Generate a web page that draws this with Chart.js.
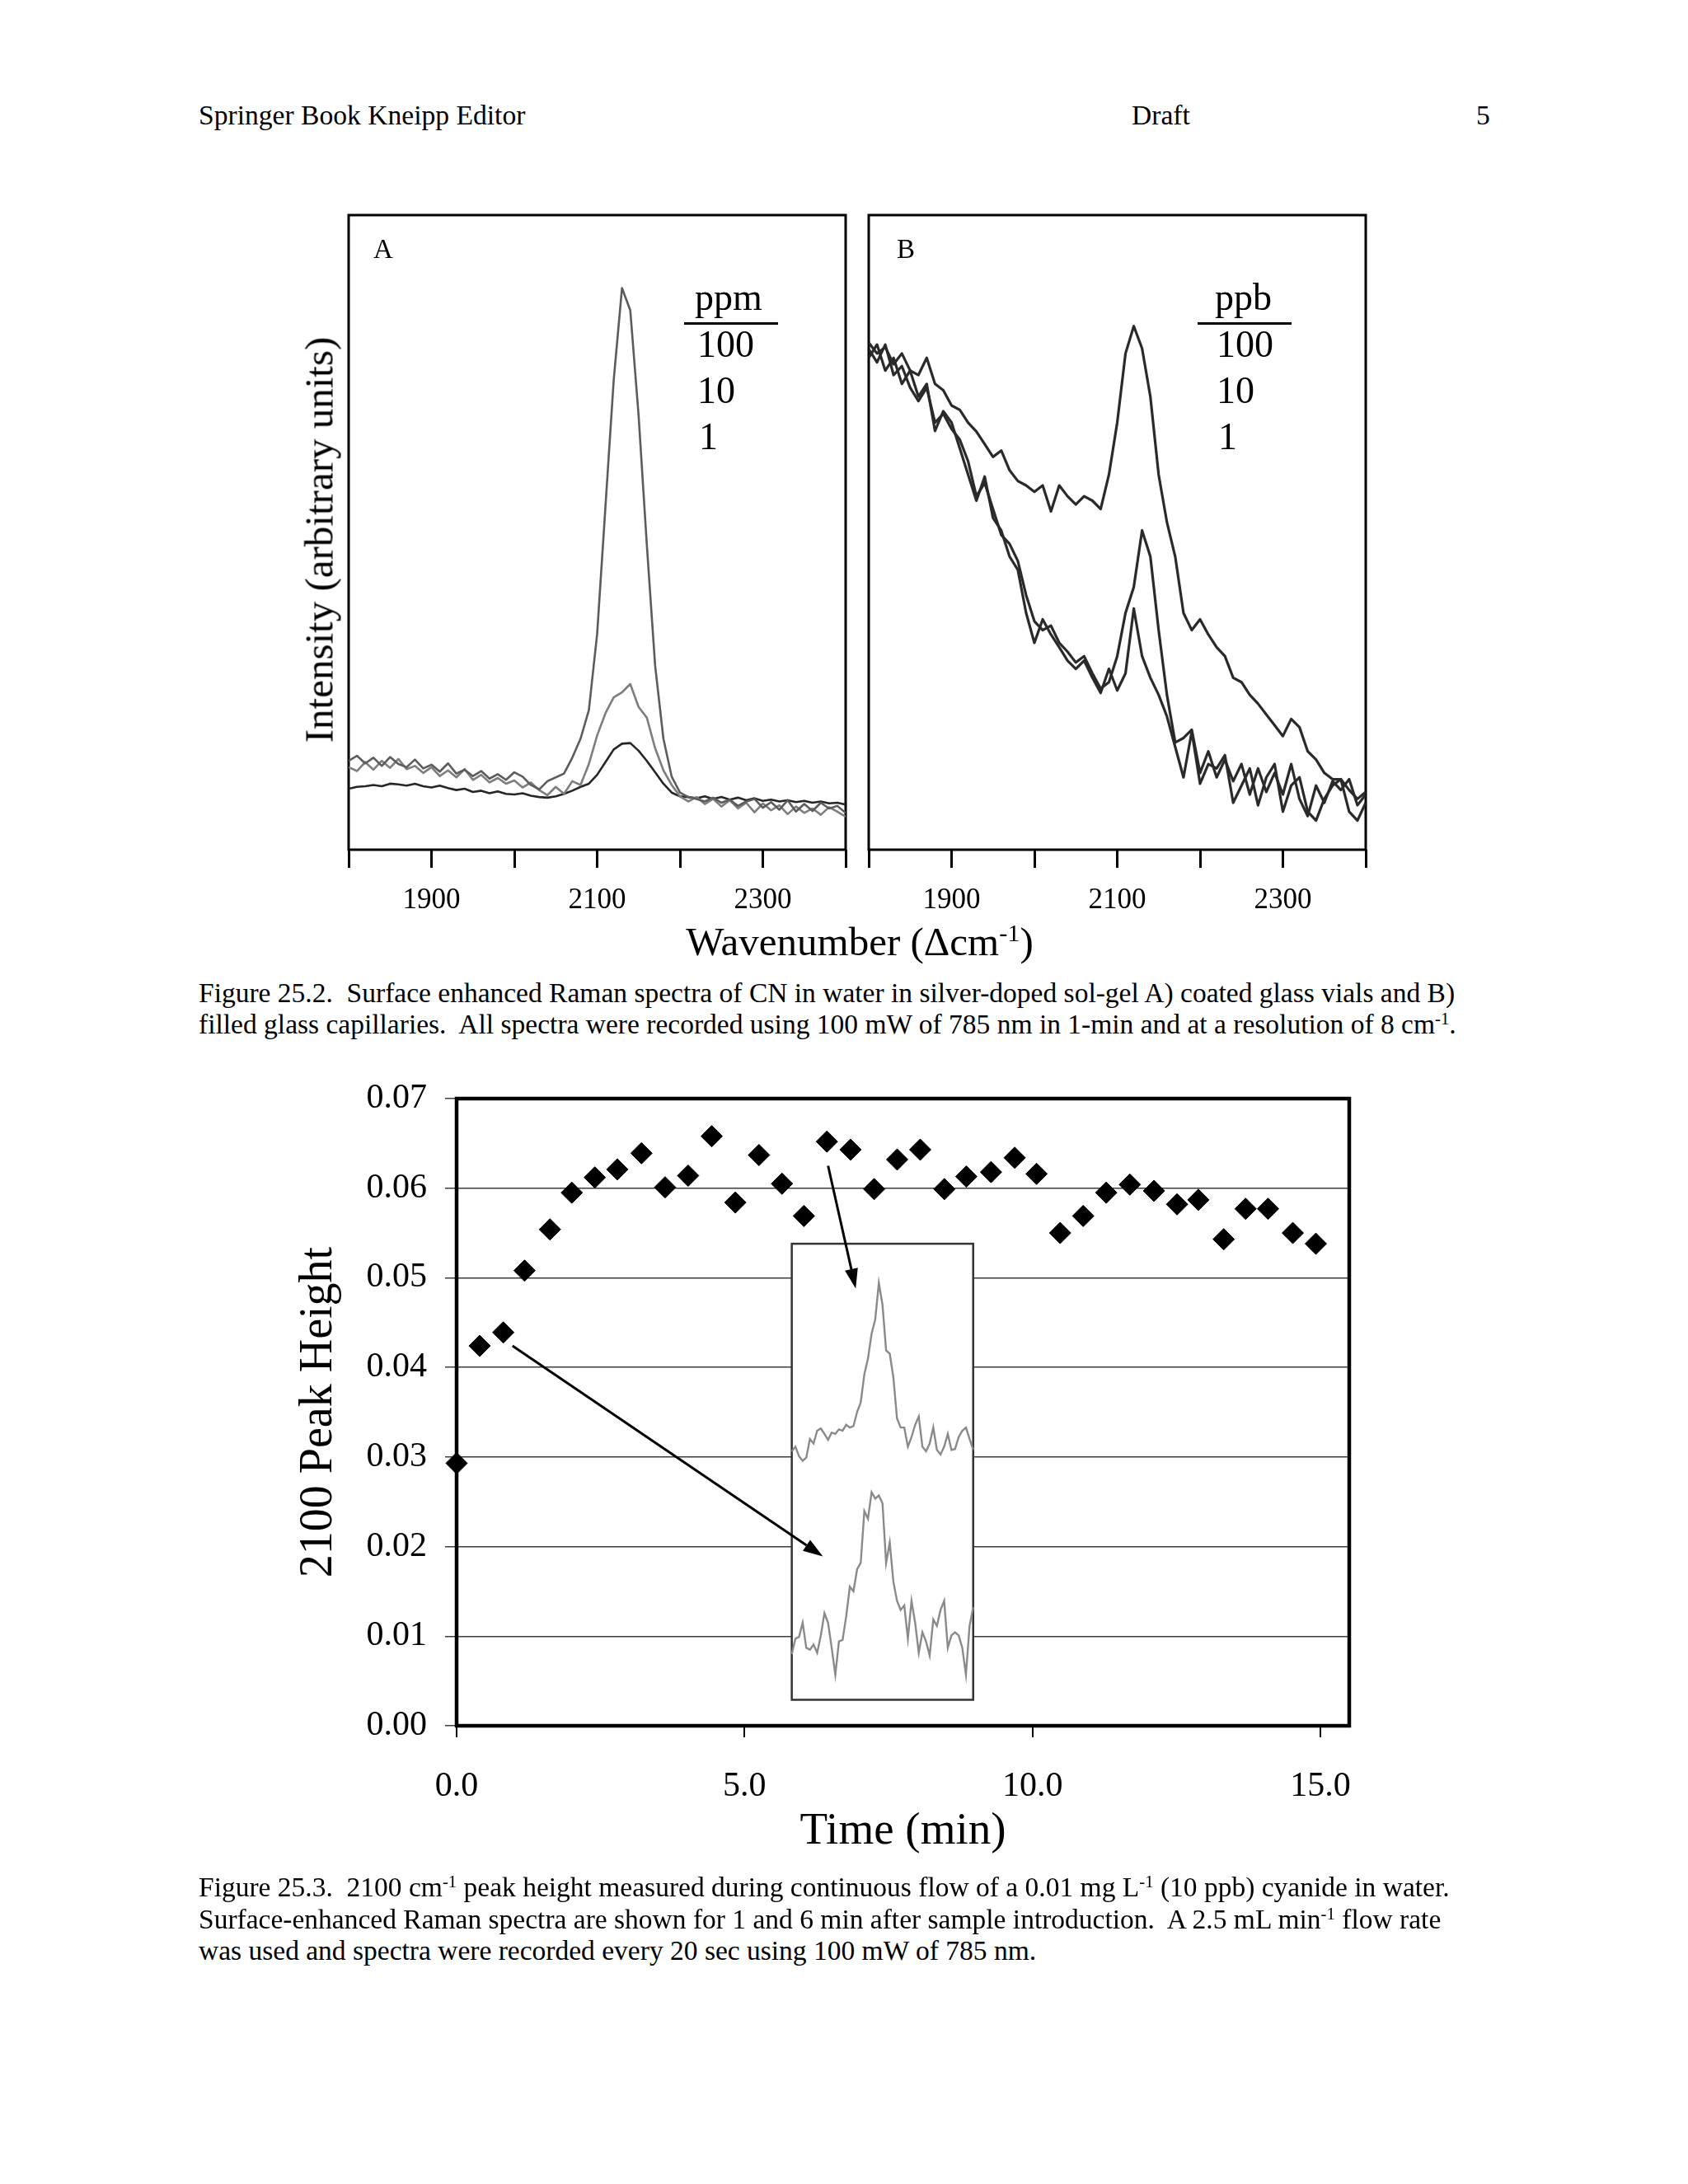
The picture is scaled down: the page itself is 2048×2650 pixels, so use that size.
<!DOCTYPE html>
<html>
<head>
<meta charset="utf-8">
<script src="https://cdn.jsdelivr.net/npm/chart.js@4.4.1/dist/chart.umd.min.js"></script>
<style>
  html, body { margin: 0; padding: 0; background: #fff; }
  body { width: 2048px; height: 2650px; position: relative; overflow: hidden;
         font-family: 'Liberation Serif', 'Times New Roman', serif; color: #000; }
  .t { position: absolute; white-space: nowrap; line-height: 1; }
  .c { transform: translate(-50%, -50%); }
  .r { transform: translate(-50%, -50%) rotate(-90deg); }
  canvas { position: absolute; }
  sup { font-size: 62%; line-height: 0; vertical-align: 0.55em; }
  .rule { position: absolute; height: 3px; background: #000; }
</style>
</head>
<body>
<!-- kop van de pagina -->
<div class="t" style="left:241px;top:123px;font-size:33.6px">Springer Book Kneipp Editor</div>
<div class="t" style="left:1373px;top:123px;font-size:33.6px">Draft</div>
<div class="t" style="left:1791px;top:123px;font-size:33.6px">5</div>

<!-- Figure 25.2 -->
<canvas id="panelA" width="640" height="880" style="left:400px;top:240px"></canvas>
<canvas id="panelB" width="640" height="880" style="left:1040px;top:240px"></canvas>

<div class="t" style="left:453px;top:286px;font-size:33px">A</div>
<div class="t" style="left:1088px;top:286px;font-size:33px">B</div>

<div class="t" style="left:843px;top:338px;font-size:46px">ppm</div>
<div class="rule" style="left:830px;top:391px;width:114px"></div>
<div class="t" style="left:846px;top:395px;font-size:46px">100</div>
<div class="t" style="left:846px;top:451px;font-size:46px">10</div>
<div class="t" style="left:848px;top:507px;font-size:46px">1</div>

<div class="t" style="left:1474px;top:338px;font-size:46px">ppb</div>
<div class="rule" style="left:1453px;top:391px;width:114px"></div>
<div class="t" style="left:1476px;top:395px;font-size:46px">100</div>
<div class="t" style="left:1476px;top:451px;font-size:46px">10</div>
<div class="t" style="left:1478px;top:507px;font-size:46px">1</div>

<div class="t r" style="left:387px;top:655px;font-size:49px">Intensity (arbitrary units)</div>
<div class="t c" style="left:1043px;top:1142px;font-size:49px">Wavenumber (&Delta;cm<sup>-1</sup>)</div>

<div class="t" style="left:241px;top:1188px;font-size:33.5px">Figure 25.2.&nbsp; Surface enhanced Raman spectra of CN in water in silver-doped sol-gel A) coated glass vials and B)</div>
<div class="t" style="left:241px;top:1226px;font-size:33.5px">filled glass capillaries.&nbsp; All spectra were recorded using 100 mW of 785 nm in 1-min and at a resolution of 8 cm<sup>-1</sup>.</div>

<!-- Figure 25.3 -->
<canvas id="peakChart" width="1340" height="1000" style="left:330px;top:1290px"></canvas>
<canvas id="insetChart" width="1340" height="1000" style="left:330px;top:1290px"></canvas>

<div class="t" style="left:241px;top:2273px;font-size:33.5px">Figure 25.3.&nbsp; 2100 cm<sup>-1</sup> peak height measured during continuous flow of a 0.01 mg L<sup>-1</sup> (10 ppb) cyanide in water.</div>
<div class="t" style="left:241px;top:2312px;font-size:33.5px">Surface-enhanced Raman spectra are shown for 1 and 6 min after sample introduction.&nbsp; A 2.5 mL min<sup>-1</sup> flow rate</div>
<div class="t" style="left:241px;top:2350px;font-size:33.5px">was used and spectra were recorded every 20 sec using 100 mW of 785 nm.</div>

<script>
// Figure 25.2: spectra (intensity in willekeurige eenheden, 0-100 over het kader)
const wavenumber = [1800,1810,1820,1830,1840,1850,1860,1870,1880,1890,
  1900,1910,1920,1930,1940,1950,1960,1970,1980,1990,
  2000,2010,2020,2030,2040,2050,2060,2070,2080,2090,
  2100,2110,2120,2130,2140,2150,2160,2170,2180,2190,
  2200,2210,2220,2230,2240,2250,2260,2270,2280,2290,
  2300,2310,2320,2330,2340,2350,2360,2370,2380,2390,
  2400];
const wavenumberTickLabels = [1900, 2100, 2300];

// A) ppm
const spectrumA100 = [14.0,14.8,13.6,14.5,13.2,14.6,13.5,13.0,14.2,12.8,
  13.4,12.3,13.6,12.0,12.6,11.6,12.4,11.2,11.9,11.0,
  12.2,11.5,10.2,9.5,10.8,11.4,12.0,14.5,17.5,22.0,
  34.0,54.0,74.0,88.5,85.0,68.5,48.0,29.0,17.5,11.5,
  9.0,8.3,8.0,7.6,8.2,7.4,7.9,6.9,7.6,8.0,
  6.6,7.5,6.3,7.8,6.0,7.2,6.1,7.4,6.5,6.9,
  5.8];
const spectrumA10 = [13.0,12.4,13.8,12.6,14.0,12.9,14.3,12.7,13.2,12.1,
  13.0,11.6,12.5,11.4,12.7,11.0,11.8,10.6,11.3,10.4,
  10.9,9.8,10.6,9.4,8.6,9.9,8.8,10.8,10.2,13.5,
  18.0,21.5,24.0,24.8,26.1,22.5,20.8,16.0,12.5,10.2,
  8.4,7.6,8.3,7.2,8.0,6.8,7.8,6.5,7.4,5.9,
  7.3,6.2,7.0,5.6,6.8,5.8,6.5,5.5,6.7,6.0,
  5.2];
const spectrumA1 = [9.6,9.9,10.0,10.2,10.0,10.4,10.3,10.1,10.4,10.0,
  9.8,10.1,9.7,9.4,9.6,9.1,9.3,8.9,9.2,8.8,
  8.7,8.9,8.5,8.3,8.2,8.4,8.8,9.3,9.9,10.4,
  11.8,13.8,15.8,16.7,16.8,15.6,14.0,12.2,10.4,9.0,
  8.4,8.3,8.1,8.4,8.0,8.3,7.9,8.2,7.8,8.1,
  7.7,7.9,7.6,7.8,7.5,7.7,7.4,7.6,7.3,7.4,
  7.1];

// B) ppb
const spectrumB100 = [79.9,78.2,79.2,76.5,78.2,75.5,74.8,77.5,73.4,72.4,
  70.0,69.3,67.3,65.9,63.9,61.9,62.9,59.8,58.1,57.4,
  56.4,57.4,53.3,57.4,55.7,54.4,55.7,55.0,53.7,59.1,
  67.3,78.2,82.5,79.0,71.4,59.1,51.6,46.2,37.3,34.6,
  36.3,33.9,31.9,30.5,27.1,26.4,24.4,23.0,21.3,19.6,
  17.9,20.6,19.3,15.5,14.2,12.1,11.1,11.1,9.4,8.0,
  9.1];
const spectrumB10 = [78.9,76.8,79.6,74.8,76.2,72.8,70.7,72.8,67.3,68.7,
  66.3,64.6,61.2,55.7,57.8,53.7,49.6,48.2,45.5,40.1,
  36.0,34.6,35.3,32.6,31.2,29.5,30.5,27.8,25.4,26.4,
  30.5,37.3,41.4,50.3,46.2,34.6,24.4,16.9,17.6,18.9,
  12.1,15.5,11.4,14.2,10.8,13.5,8.7,12.8,9.1,12.1,
  8.7,13.5,8.0,5.3,10.1,7.4,10.8,9.4,11.1,7.0,
  8.7];
const spectrumB1 = [77.5,79.6,75.5,77.5,73.4,75.5,71.4,73.4,66.0,69.1,
  67.3,63.2,59.1,55.0,58.8,52.3,50.3,46.2,44.1,37.3,
  32.6,36.3,33.9,31.9,29.8,28.5,29.8,27.1,24.7,28.5,
  25.1,27.8,38.0,30.5,27.1,24.4,21.0,16.2,11.4,18.6,
  10.4,13.5,12.8,14.9,7.4,10.1,12.8,7.0,11.4,13.5,
  6.0,10.1,11.4,6.0,4.6,8.0,10.1,11.1,6.0,4.6,
  7.4];

// Figure 25.3: piekhoogte tegen tijd
const timeMin = [0.00,0.40,0.81,1.18,1.62,2.00,2.40,2.79,3.21,3.62,
  4.02,4.43,4.84,5.25,5.65,6.03,6.43,6.84,7.25,7.65,
  8.05,8.47,8.85,9.28,9.69,10.07,10.48,10.88,11.28,11.69,
  12.11,12.51,12.88,13.32,13.70,14.09,14.52,14.92];
const peakHeight = [0.0293,0.0424,0.0439,0.0508,0.0554,0.0595,0.0612,0.0621,0.0639,0.0601,
  0.0614,0.0658,0.0584,0.0637,0.0605,0.0569,0.0652,0.0643,0.0599,0.0632,
  0.0643,0.0599,0.0613,0.0618,0.0634,0.0616,0.0550,0.0569,0.0595,0.0604,
  0.0597,0.0582,0.0587,0.0543,0.0577,0.0577,0.0550,0.0538];
const timeTickLabels = [0, 5, 10, 15];
const peakHeightTicks = [0, 0.01, 0.02, 0.03, 0.04, 0.05, 0.06, 0.07];

// inzet met de twee spectra (na 6 en na 1 min)
const insetPoint = [0,1,2,3,4,5,6,7,8,9,10,11,12,13,14,15,16,17,18,19,20,
  21,22,23,24,25,26,27,28,29,30,31,32,33,34,35,36,37,38,39,40,
  41,42,43,44,45,46,47,48,49,50];
const insetSpectrum6min = [54.5,55.5,53.4,52.4,53.1,57.2,56.2,59.0,59.5,58.3,
  57.0,58.6,58.3,59.3,59.0,60.3,59.7,60.0,63.1,65.2,
  71.4,74.8,80.3,83.4,91.4,86.6,76.6,75.9,70.7,61.7,
  59.7,59.7,55.5,57.6,60.3,62.1,55.5,54.5,56.2,59.7,
  54.8,53.8,55.5,58.3,54.8,55.0,57.6,59.0,59.7,57.2,
  54.8];
const insetSpectrum1min = [10.0,13.4,13.8,16.9,11.4,11.0,12.1,10.3,14.1,19.0,
  16.9,11.4,5.5,12.8,13.1,18.3,24.8,23.8,28.6,30.0,
  41.4,39.7,45.5,44.1,44.8,43.1,30.0,34.5,25.9,21.7,
  19.7,20.7,13.4,21.7,16.9,10.3,14.8,12.8,9.7,17.6,
  16.2,19.7,21.7,11.4,14.1,14.8,14.1,11.4,5.5,16.2,
  20.3];

// plaats van de inzet en de pijlen, in assen van de hoofdgrafiek
const insetBox = { x0: 5.82, x1: 8.97, y0: 0.0029, y1: 0.0538 };
const arrowStart = [[0.97, 0.0424], [6.45, 0.0625]];
const arrowEnd = [[6.36, 0.0189], [6.93, 0.0488]];

Chart.defaults.font.family = "'Liberation Serif', 'Times New Roman', serif";
Chart.defaults.color = '#000';

// kader rond het plotgebied
const framePlugin = {
  id: 'frame',
  beforeDatasetsDraw(chart, args, opts) {
    const a = chart.chartArea, ctx = chart.ctx;
    ctx.save();
    ctx.strokeStyle = '#000';
    ctx.lineWidth = opts.width;
    ctx.strokeRect(a.left, a.top, a.right - a.left, a.bottom - a.top);
    ctx.restore();
  }
};

function createSpectrumChart(canvasElement, seriesList, colors, lineWidth, padLeft, padRight) {
  return new Chart(canvasElement, {
    type: 'line',
    data: {
      datasets: seriesList.map((series, i) => ({
        data: wavenumber.map((w, j) => ({ x: w, y: series[j] })),
        borderColor: colors[i],
        borderWidth: lineWidth,
        pointRadius: 0,
        tension: 0,
        borderJoinStyle: 'round'
      }))
    },
    options: {
      responsive: false,
      animation: false,
      devicePixelRatio: 1,
      events: [],
      layout: { padding: { left: padLeft, right: padRight, top: 21, bottom: 0 } },
      plugins: { legend: { display: false }, tooltip: { enabled: false }, frame: { width: 3 } },
      scales: {
        x: {
          type: 'linear', min: 1800, max: 2400,
          afterFit: s => { s.height = 89; s.paddingLeft = 0; s.paddingRight = 0; },
          grid: { drawOnChartArea: false, color: '#000', lineWidth: 3, tickLength: 22 },
          border: { display: false },
          ticks: {
            stepSize: 100, padding: 19, autoSkip: false, maxRotation: 0,
            font: { size: 35 },
            callback: v => wavenumberTickLabels.includes(v) ? String(v) : ''
          }
        },
        y: { display: false, min: 0, max: 100 }
      }
    },
    plugins: [framePlugin]
  });
}

createSpectrumChart(document.getElementById('panelA'),
  [spectrumA100, spectrumA10, spectrumA1], ['#5c5c5c', '#7e7e7e', '#262626'], 2.6, 23, 14);
createSpectrumChart(document.getElementById('panelB'),
  [spectrumB100, spectrumB10, spectrumB1], ['#2a2a2a', '#2a2a2a', '#2a2a2a'], 3.2, 14, 23);

const mainChart = new Chart(document.getElementById('peakChart'), {
  type: 'scatter',
  data: {
    datasets: [{
      data: timeMin.map((t, i) => ({ x: t, y: peakHeight[i] })),
      pointStyle: 'rectRot',
      pointRadius: 13,
      pointHoverRadius: 13,
      backgroundColor: '#000',
      borderColor: '#000',
      borderWidth: 1,
      clip: false
    }]
  },
  options: {
    responsive: false,
    animation: false,
    devicePixelRatio: 1,
    events: [],
    layout: { padding: { left: 0, top: 43, right: 33, bottom: 0 } },
    plugins: { legend: { display: false }, tooltip: { enabled: false }, frame: { width: 4.5 } },
    scales: {
      x: {
        type: 'linear', min: 0, max: 15.5,
        afterBuildTicks: s => { s.ticks = timeTickLabels.map(v => ({ value: v })); },
        afterFit: s => { s.height = 196; s.paddingLeft = 0; s.paddingRight = 0; },
        grid: { drawOnChartArea: false, color: '#000', lineWidth: 2, tickLength: 14 },
        border: { display: false },
        ticks: { font: { size: 42 }, padding: 35, autoSkip: false, maxRotation: 0,
                 callback: v => Number(v).toFixed(1) },
        title: { display: true, text: 'Time (min)', font: { size: 55 }, padding: { top: 0, bottom: 34 } }
      },
      y: {
        min: 0, max: 0.07,
        afterBuildTicks: s => { s.ticks = peakHeightTicks.map(v => ({ value: v })); },
        afterFit: s => { s.width = 224; s.paddingTop = 0; s.paddingBottom = 0; },
        grid: { color: '#3c3c3c', lineWidth: 1.5, tickLength: 14 },
        border: { display: false },
        ticks: { font: { size: 42 }, padding: 22, callback: v => Number(v).toFixed(2) },
        title: { display: true, text: '2100 Peak Height', font: { size: 56 }, padding: { top: 24, bottom: 0 } }
      }
    }
  },
  plugins: [framePlugin]
});

// witte inzet met rand
const insetBoxPlugin = {
  id: 'insetBox',
  beforeDatasetsDraw(chart) {
    const a = chart.chartArea, ctx = chart.ctx;
    ctx.save();
    ctx.fillStyle = '#fff';
    ctx.fillRect(a.left, a.top, a.right - a.left, a.bottom - a.top);
    ctx.strokeStyle = '#333';
    ctx.lineWidth = 2.5;
    ctx.strokeRect(a.left, a.top, a.right - a.left, a.bottom - a.top);
    ctx.restore();
  }
};

// pijlen van de datapunten naar de spectra
const arrowPlugin = {
  id: 'arrows',
  afterDatasetsDraw(chart) {
    const sx = mainChart.scales.x, sy = mainChart.scales.y, ctx = chart.ctx;
    ctx.save();
    ctx.strokeStyle = '#000';
    ctx.fillStyle = '#000';
    ctx.lineWidth = 3;
    for (let i = 0; i < arrowStart.length; i++) {
      const x1 = sx.getPixelForValue(arrowStart[i][0]), y1 = sy.getPixelForValue(arrowStart[i][1]);
      const x2 = sx.getPixelForValue(arrowEnd[i][0]), y2 = sy.getPixelForValue(arrowEnd[i][1]);
      const ang = Math.atan2(y2 - y1, x2 - x1);
      const len = 24, half = 8;
      const bx = x2 - len * Math.cos(ang), by = y2 - len * Math.sin(ang);
      ctx.beginPath();
      ctx.moveTo(x1, y1);
      ctx.lineTo(bx, by);
      ctx.stroke();
      ctx.beginPath();
      ctx.moveTo(x2, y2);
      ctx.lineTo(bx + half * Math.sin(ang), by - half * Math.cos(ang));
      ctx.lineTo(bx - half * Math.sin(ang), by + half * Math.cos(ang));
      ctx.closePath();
      ctx.fill();
    }
    ctx.restore();
  }
};

const insetCanvas = document.getElementById('insetChart');
const sxMain = mainChart.scales.x, syMain = mainChart.scales.y;
new Chart(insetCanvas, {
  type: 'line',
  data: {
    labels: insetPoint,
    datasets: [
      { data: insetSpectrum6min, borderColor: '#8a8a8a', borderWidth: 2.4, pointRadius: 0, tension: 0 },
      { data: insetSpectrum1min, borderColor: '#8a8a8a', borderWidth: 2.4, pointRadius: 0, tension: 0 }
    ]
  },
  options: {
    responsive: false,
    animation: false,
    devicePixelRatio: 1,
    events: [],
    layout: {
      padding: {
        left: sxMain.getPixelForValue(insetBox.x0),
        right: insetCanvas.width - sxMain.getPixelForValue(insetBox.x1),
        top: syMain.getPixelForValue(insetBox.y1),
        bottom: insetCanvas.height - syMain.getPixelForValue(insetBox.y0)
      }
    },
    plugins: { legend: { display: false }, tooltip: { enabled: false } },
    scales: {
      x: { display: false },
      y: { display: false, min: 0, max: 100 }
    }
  },
  plugins: [insetBoxPlugin, arrowPlugin]
});
</script>
</body>
</html>
